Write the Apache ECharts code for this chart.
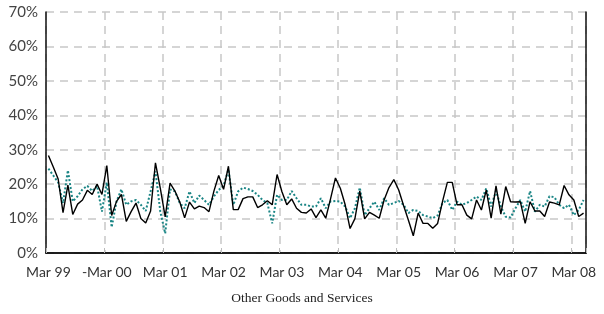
<!DOCTYPE html>
<html>
<head>
<meta charset="utf-8">
<script src="https://cdn.jsdelivr.net/npm/echarts@6/dist/echarts.min.js"></script>
<style>
  html, body { margin: 0; padding: 0; background: #fff; }
  #chart { width: 604px; height: 314px; }
</style>
</head>
<body>
<div id="chart"></div>
<script>
// monthly, Mar 99 .. May 08
var monthNames = ['Jan','Feb','Mar','Apr','May','Jun','Jul','Aug','Sep','Oct','Nov','Dec'];
var tickLabels = ['Mar 99','-Mar 00','Mar 01','Mar 02','Mar 03','Mar 04','Mar 05','Mar 06','Mar 07','Mar 08'];
var yTicks = [0, 10, 20, 30, 40, 50, 60, 70];

var blackLine = [
  28.3, 25.0, 21.5, 11.7, 19.7, 11.2, 14.2, 15.4, 18.2, 17.0, 20.0, 17.0,
  25.4, 10.9, 15.0, 17.0, 9.2, 12.0, 14.5, 10.0, 8.7, 12.2, 26.2, 18.8,
  10.5, 20.3, 18.0, 14.8, 10.2, 14.8, 12.8, 13.6, 13.2, 12.0, 17.9, 22.5,
  18.5, 25.2, 12.6, 12.6, 15.8, 16.3, 16.3, 13.2, 14.0, 15.2, 14.0, 22.8,
  17.8, 14.0, 15.7, 13.0, 11.8, 11.6, 12.8, 10.3, 12.5, 10.1, 15.8, 21.8,
  18.8, 14.0, 7.1, 10.0, 18.0, 9.9, 11.8, 11.0, 10.1, 15.4, 19.0, 21.3,
  18.3, 13.8, 9.5, 5.0, 11.6, 8.6, 8.6, 7.2, 8.6, 14.9, 20.5, 20.5,
  14.0, 14.0, 11.0, 9.9, 15.4, 12.5, 18.3, 10.1, 19.5, 11.3, 19.3, 14.9,
  14.8, 14.9, 8.6, 14.9, 12.2, 12.2, 10.6, 14.8, 14.5, 14.0, 19.6, 16.9,
  15.4, 10.6, 11.6
];

var tealLine = [
  24.5, 22.5, 20.5, 14.5, 24.0, 15.0, 16.5, 18.5, 19.5, 18.0, 19.5, 12.0,
  20.5, 7.5, 15.0, 18.5, 14.0, 15.0, 15.4, 14.0, 12.2, 17.9, 23.7, 12.0,
  5.7, 18.5, 17.9, 14.5, 13.0, 17.9, 14.5, 16.7, 15.4, 14.0, 16.4, 18.3,
  19.5, 24.2, 14.0, 17.9, 19.0, 18.6, 18.0, 16.9, 15.4, 14.5, 8.6, 16.9,
  15.4, 15.4, 18.0, 15.9, 14.0, 14.0, 13.5, 13.5, 15.9, 13.0, 15.0, 15.1,
  14.9, 13.5, 10.1, 13.0, 19.0, 11.0, 13.0, 14.9, 12.5, 15.9, 14.0, 14.5,
  15.1, 14.0, 11.6, 12.5, 12.2, 11.0, 10.6, 10.1, 10.9, 14.5, 15.4, 12.5,
  14.9, 14.0, 14.5, 15.4, 16.4, 15.4, 18.8, 13.5, 18.0, 13.5, 10.5, 10.3,
  13.0, 15.4, 12.0, 18.0, 12.0, 14.0, 13.5, 16.5, 16.2, 14.0, 13.0, 14.0,
  11.0, 12.5, 15.4
];

var months = [];
for (var i = 0; i < blackLine.length; i++) {
  var m = (2 + i) % 12;
  var y = 99 + Math.floor((2 + i) / 12);
  months.push(monthNames[m] + ' ' + String(y % 100).padStart(2, '0'));
}

// only every March gets a tick, label and grid line
var yearTick = function (index) { return index % 12 === 0; };
var frame = { show: true, lineStyle: { color: '#111', width: 1.5 } };
var dashed = { color: '#c8c8c8', width: 1.5, type: [8, 6] };

var chart = echarts.init(document.getElementById('chart'));
chart.setOption({
  animation: false,
  title: {
    text: 'Other Goods and Services',
    left: 'center',
    top: 286,
    textStyle: { fontFamily: 'Liberation Serif', fontSize: 13.5, fontWeight: 'normal', color: '#222' }
  },
  grid: { left: 46, right: 18, top: 12, bottom: 61 },
  xAxis: [
    {
      type: 'category',
      data: months,
      boundaryGap: true,
      axisLine: frame,
      axisTick: { show: true, inside: true, length: 5, interval: yearTick, lineStyle: { color: '#bbb' } },
      splitLine: { show: true, interval: yearTick, lineStyle: dashed },
      axisLabel: {
        interval: yearTick,
        margin: 12,
        fontFamily: 'Lato',
        fontSize: 14,
        color: '#333',
        formatter: function (v, idx) { return tickLabels[idx / 12] || ''; }
      }
    },
    {
      // top edge of the frame
      type: 'category', data: months, position: 'top',
      axisLine: frame, axisTick: { show: false }, axisLabel: { show: false }, splitLine: { show: false }
    }
  ],
  yAxis: [
    {
      type: 'value',
      min: yTicks[0],
      max: yTicks[yTicks.length - 1],
      interval: 10,
      axisLine: frame,
      axisTick: { show: false },
      splitLine: { show: true, lineStyle: dashed },
      axisLabel: {
        margin: 8,
        fontFamily: 'Lato',
        fontSize: 15,
        color: '#444',
        formatter: '{value}%'
      }
    },
    {
      // right edge of the frame
      type: 'value', position: 'right', min: 0, max: 70, interval: 10,
      axisLine: frame, axisTick: { show: false }, axisLabel: { show: false }, splitLine: { show: false }
    }
  ],
  series: [
    {
      name: 'teal', type: 'line', data: tealLine, symbol: 'none',
      lineStyle: { color: '#1a8585', width: 2, type: [2, 2] }
    },
    {
      name: 'black', type: 'line', data: blackLine, symbol: 'none',
      lineStyle: { color: '#000', width: 1.4 }
    }
  ]
});
</script>
</body>
</html>
